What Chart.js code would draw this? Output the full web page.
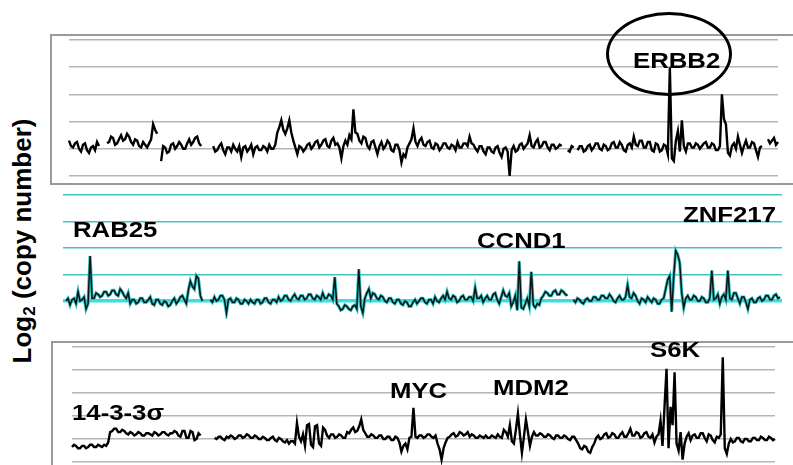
<!DOCTYPE html>
<html>
<head>
<meta charset="utf-8">
<script src="https://cdn.jsdelivr.net/npm/chart.js@4"></script>
<style>
    html, body { margin: 0; padding: 0; background: #fff; }
    #stage { position: relative; width: 793px; height: 465px; overflow: hidden; font-family: 'Liberation Sans', Arial, sans-serif; }
    canvas { position: absolute; }
    #c1 { left: 63px; top: 34px; }
    #c2 { left: 57px; top: 189px; }
    #c3 { left: 66px; top: 341px; }
    .box { position: absolute; border: 2px solid #9a9a9a; border-right: none; }
    #box1 { left: 50px; top: 34px; width: 760px; height: 147px; }
    #box3 { left: 51px; top: 341px; width: 760px; height: 200px; border-bottom: none; }
    .gene { position: absolute; font-weight: bold; font-size: 22px; line-height: 22px; color: #000;
            transform: scaleX(1.17); transform-origin: 0 0; white-space: nowrap; }
    #ring { position: absolute; left: 606px; top: 12px; width: 126px; height: 84px; box-sizing: border-box;
            border: 3px solid #000; border-radius: 50%; }
    #ytitle { position: absolute; left: 23px; top: 241px; font-weight: bold; font-size: 26px; white-space: nowrap;
              transform: translate(-50%, -50%) rotate(-90deg); color: #000; }
    #ytitle sub { font-size: 17px; vertical-align: -4px; }
</style>
</head>
<body>
<div id="stage">
    <div class="box" id="box1"></div>
    <div class="box" id="box3"></div>
    <canvas id="c1" width="721" height="148"></canvas>
    <canvas id="c2" width="731" height="130"></canvas>
    <canvas id="c3" width="715" height="127"></canvas>
    <div id="ring"></div>
    <div class="gene" style="left:633px; top:50px;">ERBB2</div>
    <div class="gene" style="left:73px; top:219px;">RAB25</div>
    <div class="gene" style="left:477px; top:230px;">CCND1</div>
    <div class="gene" style="left:683px; top:204px;">ZNF217</div>
    <div class="gene" style="left:72px; top:402px;">14-3-3σ</div>
    <div class="gene" style="left:390px; top:380px;">MYC</div>
    <div class="gene" style="left:493px; top:377px;">MDM2</div>
    <div class="gene" style="left:650px; top:339px;">S6K</div>
    <div id="ytitle">Log<sub>2</sub> (copy number)</div>
</div>
<script>
// log2 copy number along the genome, one value per probe bin (null = gap between chromosomes)
const topValues = [
    0.30, 0.10, 0.05, 0.20, 0.25, 0.00, -0.10, 0.15, 0.20, -0.05,
    -0.15, 0.05, 0.10, -0.05, 0.25, 0.10, null, null, null, 0.20,
    0.25, 0.45, 0.40, 0.15, 0.20, 0.35, 0.50, 0.30, 0.35, 0.55,
    0.45, 0.25, 0.15, 0.35, 0.30, 0.10, 0.05, 0.25, 0.15, 0.05,
    0.20, 0.35, 0.90, 0.70, 0.55, null, -0.45, 0.10, 0.05, -0.15,
    -0.10, 0.15, 0.20, 0.00, 0.10, 0.25, 0.15, 0.00, 0.00, 0.20,
    0.35, 0.15, 0.25, 0.40, 0.45, 0.20, 0.10, null, null, null,
    null, null, 0.10, -0.10, -0.05, 0.10, 0.20, -0.05, -0.20, 0.05,
    0.05, -0.10, 0.15, 0.00, -0.10, 0.10, -0.30, 0.05, 0.10, -0.10,
    0.00, 0.15, -0.20, 0.05, 0.10, -0.05, -0.05, 0.10, 0.05, -0.10,
    0.15, 0.00, 0.00, 0.15, 0.60, 0.80, 1.05, 0.70, 0.55, 0.75,
    1.05, 0.60, 0.30, 0.05, -0.20, 0.10, 0.05, -0.10, 0.00, 0.15,
    0.20, 0.00, 0.10, 0.25, 0.30, 0.05, 0.15, 0.30, 0.35, 0.10,
    0.05, 0.30, 0.40, 0.15, 0.20, 0.05, -0.35, 0.10, 0.30, 0.15,
    0.50, 0.35, 1.45, 0.60, 0.55, 0.30, 0.20, 0.45, 0.40, 0.10,
    0.00, 0.25, 0.30, 0.05, -0.20, 0.10, 0.25, 0.00, 0.10, 0.30,
    0.20, -0.05, -0.10, 0.15, 0.15, -0.05, -0.50, -0.20, -0.30, 0.05,
    0.20, 0.35, 0.75, 0.25, 0.10, 0.30, 0.40, 0.15, 0.10, 0.25,
    0.30, 0.05, 0.00, 0.20, 0.15, -0.05, 0.05, 0.20, 0.20, 0.05,
    0.00, 0.15, 0.10, -0.05, 0.25, 0.05, 0.05, 0.20, 0.20, 0.10,
    0.45, 0.20, 0.15, 0.00, -0.10, 0.10, 0.10, -0.10, -0.20, 0.05,
    0.05, -0.10, -0.15, 0.05, 0.10, -0.15, -0.30, 0.00, 0.05, -0.10,
    -1.00, -0.05, 0.10, -0.10, -0.05, 0.15, 0.20, 0.00, 0.10, 0.20,
    0.50, 0.10, 0.05, 0.25, 0.35, 0.05, 0.10, 0.25, 0.25, 0.05,
    -0.05, 0.15, 0.15, 0.00, 0.05, 0.15, 0.10, null, null, -0.05,
    -0.10, 0.10, 0.05, null, -0.05, 0.10, 0.10, -0.10, -0.05, 0.10,
    0.15, -0.05, 0.05, 0.20, 0.20, 0.00, -0.05, 0.15, 0.10, -0.05,
    0.00, 0.20, 0.25, 0.05, 0.05, 0.25, 0.15, -0.05, -0.10, 0.15,
    0.20, 0.05, 0.45, 0.15, 0.10, 0.30, 0.30, 0.05, 0.05, 0.25,
    0.25, -0.05, -0.10, 0.20, 0.15, -0.10, -0.05, 0.15, 0.10, -0.20,
    3.00, -0.35, -0.45, 0.30, 0.65, -0.10, 1.05, 0.10, -0.10, 0.20,
    0.20, 0.05, 0.05, 0.20, 0.15, 0.00, 0.10, 0.20, 0.25, 0.05,
    0.05, 0.20, 0.15, -0.05, -0.05, 0.10, 2.00, 1.10, 0.90, -0.15,
    -0.25, 0.10, 0.20, 0.00, 0.45, 0.15, -0.15, 0.10, 0.30, 0.05,
    0.05, 0.25, 0.20, -0.05, -0.30, 0.05, 0.10, null, null, 0.35,
    0.20, 0.30, 0.40, 0.15, 0.25
];

const midValues = [
    0.00, 0.10, -0.15, 0.05, 0.10, -0.10, 0.35, 0.00, 0.05, 0.15,
    -0.30, -0.10, 1.70, 0.10, 0.10, 0.30, 0.25, 0.15, 0.20, 0.35,
    0.35, 0.20, 0.25, 0.40, 0.40, 0.25, 0.20, 0.45, 0.35, 0.20,
    0.10, 0.30, -0.10, 0.05, 0.05, -0.10, -0.05, 0.10, 0.10, -0.05,
    -0.05, 0.05, 0.15, -0.10, -0.15, 0.05, 0.05, -0.10, -0.15, 0.00,
    -0.05, -0.20, -0.15, 0.00, 0.10, -0.10, 0.00, 0.15, 0.20, 0.05,
    -0.10, 0.40, 0.75, 0.55, 0.45, 0.95, 0.85, 0.20, 0.00, null,
    null, null, 0.05, -0.05, 0.15, 0.00, 0.05, 0.20, 0.20, 0.05,
    -0.45, 0.05, 0.10, -0.05, -0.05, 0.10, 0.05, -0.10, -0.10, 0.05,
    0.00, -0.10, 0.05, -0.05, -0.10, 0.05, 0.05, -0.10, -0.05, 0.10,
    0.10, -0.05, -0.10, 0.05, 0.05, -0.05, 0.15, 0.00, 0.05, 0.20,
    0.20, 0.05, 0.00, 0.15, 0.25, 0.10, 0.05, 0.20, 0.20, 0.05,
    0.10, 0.25, 0.25, 0.10, 0.05, 0.20, 0.15, 0.05, 0.30, 0.10,
    0.10, 0.25, 0.20, 0.05, 0.90, -0.10, -0.20, -0.35, -0.30, -0.15,
    -0.20, -0.30, -0.35, -0.20, -0.15, -0.30, 1.20, -0.20, -0.45, 0.10,
    0.30, 0.45, 0.10, 0.30, 0.25, 0.10, 0.05, 0.20, 0.15, 0.00,
    -0.05, 0.10, 0.10, -0.05, -0.10, 0.05, 0.05, -0.10, -0.15, 0.00,
    -0.05, -0.20, -0.20, -0.05, 0.05, -0.10, 0.00, 0.10, 0.10, -0.05,
    -0.10, 0.05, 0.05, -0.10, 0.15, 0.00, -0.05, 0.10, 0.20, 0.05,
    0.35, 0.10, 0.05, 0.20, 0.15, -0.05, 0.00, 0.15, 0.20, 0.05,
    0.05, 0.15, 0.15, 0.00, 0.50, 0.10, 0.10, 0.20, -0.05, 0.10,
    0.20, 0.05, 0.05, 0.25, 0.30, 0.05, -0.10, 0.15, 0.40, 0.20,
    0.15, 0.30, -0.20, -0.05, 0.20, -0.35, 1.50, -0.25, -0.30, -0.10,
    0.10, -0.20, 1.10, -0.15, -0.25, -0.10, -0.15, 0.10, 0.20, 0.35,
    0.30, 0.20, 0.20, 0.35, 0.40, 0.25, 0.25, 0.40, 0.35, 0.25,
    0.20, null, null, 0.05, -0.05, 0.10, 0.05, -0.05, -0.10, 0.05,
    0.10, 0.00, 0.00, 0.15, 0.15, 0.05, 0.05, 0.20, 0.20, 0.10,
    0.10, 0.25, 0.15, 0.00, -0.05, 0.10, 0.20, 0.05, 0.05, 0.15,
    0.60, 0.15, 0.10, 0.30, 0.20, 0.00, -0.10, 0.10, 0.05, -0.05,
    0.15, 0.05, -0.05, 0.10, 0.05, -0.10, -0.10, 0.05, 0.10, 0.45,
    0.80, 0.95, -0.40, 0.90, 1.90, 1.75, 1.45, 0.30, -0.25, 0.10,
    0.20, 0.05, 0.05, 0.20, 0.15, 0.00, 0.00, 0.15, 0.10, -0.05,
    -0.05, 0.10, 1.15, 0.05, 0.10, 0.25, -0.10, 0.15, 0.25, 0.05,
    1.15, 0.10, 0.05, 0.30, 0.30, 0.10, -0.10, 0.15, 0.15, -0.05,
    -0.30, 0.05, 0.10, -0.05, -0.05, 0.10, 0.15, 0.00, 0.05, 0.20,
    0.20, 0.05, 0.05, 0.20, 0.25, 0.10, 0.15
];

const lowValues = [
    -0.35, -0.25, -0.30, -0.40, -0.40, -0.30, -0.30, -0.40, -0.35, -0.25,
    -0.25, -0.35, -0.35, -0.25, -0.30, -0.35, -0.25, -0.30, -0.15, 0.30,
    0.35, 0.45, 0.45, 0.30, 0.30, 0.40, 0.35, 0.25, 0.20, 0.30,
    0.25, 0.15, 0.20, 0.30, 0.25, 0.15, 0.15, 0.25, 0.25, 0.20,
    0.15, 0.30, 0.25, 0.15, 0.20, 0.30, 0.30, 0.20, 0.15, 0.25,
    0.25, 0.35, 0.30, 0.15, 0.10, 0.35, 0.35, 0.05, 0.05, 0.35,
    0.30, -0.05, 0.00, 0.25, 0.15, null, null, null, null, null,
    null, 0.05, 0.00, 0.10, 0.10, 0.00, -0.05, 0.10, 0.05, 0.15,
    0.10, 0.00, 0.05, 0.15, 0.15, 0.05, 0.10, 0.20, 0.15, 0.05,
    0.05, 0.15, 0.10, 0.00, 0.00, 0.10, 0.05, -0.05, -0.05, 0.05,
    0.10, -0.05, -0.10, 0.05, 0.00, -0.10, -0.15, -0.05, -0.20, -0.10,
    -0.10, -0.20, 0.70, 0.10, -0.10, 0.20, -0.30, 0.60, 0.65, -0.25,
    -0.35, 0.55, 0.60, -0.20, -0.30, 0.50, 0.40, 0.15, 0.05, 0.20,
    0.20, 0.05, 0.10, 0.20, 0.15, 0.05, 0.05, 0.30, 0.25, 0.40,
    0.50, 0.30, 0.35, 0.55, 0.85, 0.40, 0.25, 0.10, 0.10, 0.20,
    0.15, 0.05, 0.05, 0.15, 0.15, 0.00, 0.00, 0.10, 0.10, -0.05,
    -0.05, 0.10, 0.05, -0.15, -0.55, -0.30, -0.20, -0.45, 0.05, 0.10,
    1.35, 0.10, 0.05, 0.15, 0.15, 0.05, 0.10, 0.20, 0.20, 0.10,
    0.05, 0.15, -0.20, -0.45, -0.90, -0.40, -0.15, 0.05, 0.10, 0.20,
    0.25, 0.10, 0.15, 0.30, 0.25, 0.15, 0.20, 0.30, 0.10, 0.20,
    0.15, 0.05, 0.05, 0.15, 0.10, 0.05, 0.15, 0.05, 0.05, 0.15,
    0.10, 0.05, 0.20, 0.10, 0.05, 0.40, 0.30, 0.10, 0.60, -0.10,
    -0.20, 0.40, 1.10, 0.20, -0.60, 0.10, 0.85, 0.30, -0.30, 0.10,
    0.30, 0.15, 0.15, 0.25, 0.20, 0.10, 0.10, 0.20, 0.15, 0.05,
    0.00, 0.15, 0.15, 0.05, 0.05, 0.15, 0.10, 0.00, -0.05, 0.10,
    0.10, -0.05, -0.20, -0.40, -0.45, -0.30, -0.35, -0.55, -0.60, -0.35,
    -0.20, 0.05, 0.15, 0.00, 0.05, 0.20, 0.25, 0.05, 0.10, 0.25,
    0.20, 0.05, 0.05, 0.20, 0.30, 0.10, 0.10, 0.25, 0.45, 0.15,
    0.15, 0.30, 0.25, 0.05, 0.10, 0.25, 0.30, 0.10, 0.05, 0.20,
    -0.15, 0.10, 0.20, 0.80, -0.30, 1.40, 3.05, -0.40, 1.40, 0.60,
    2.90, -0.20, -0.50, 0.30, -0.90, -0.20, 0.10, 0.25, -0.05, 0.15,
    0.20, 0.05, 0.05, 0.25, 0.25, 0.05, -0.10, 0.20, 0.15, -0.05,
    -0.15, 0.10, 0.05, 0.20, 3.55, -0.40, -0.65, -0.20, 0.00, -0.15,
    -0.10, 0.05, 0.05, -0.10, -0.15, 0.00, 0.00, -0.10, -0.10, 0.05,
    0.05, -0.05, -0.05, 0.10, 0.05, -0.05, -0.05, 0.10, 0.05, -0.05,
    0.00
];

// horizontal reference lines of each panel
const topGrid = [-1, 0, 1, 2, 3, 4];
const midGrid = [0, 1, 2, 3, 4];
const lowGrid = [-1, 0, 1, 2, 3, 4];

function toPoints(values) {
    return values.map((v, i) => ({ x: i, y: v }));
}

function trace(values, color, width) {
    return {
        data: toPoints(values),
        borderColor: color,
        borderWidth: width,
        pointRadius: 0,
        tension: 0,
        spanGaps: false,
        clip: false,
        borderJoinStyle: 'miter'
    };
}

function makePanel(id, datasets, grid, yRange, xRange, padding, gridColor, gridWidth) {
    new Chart(document.getElementById(id), {
        type: 'line',
        data: { datasets },
        options: {
            responsive: false,
            animation: false,
            events: [],
            layout: { padding },
            plugins: { legend: { display: false }, tooltip: { enabled: false } },
            scales: {
                x: { type: 'linear', display: false, min: xRange[0], max: xRange[1] },
                y: {
                    min: yRange[0],
                    max: yRange[1],
                    border: { display: false },
                    ticks: { display: false },
                    afterBuildTicks: scale => { scale.ticks = grid.map(v => ({ value: v })); },
                    grid: { drawTicks: false, color: gridColor, lineWidth: gridWidth }
                }
            }
        }
    });
}

makePanel('c1', [trace(topValues, '#000', 2.4)], topGrid, [-1, 4],
    [0, topValues.length - 1], { left: 6, right: 6, top: 6, bottom: 6 }, '#b5b5b5', 1.5);

// dark core drawn over a teal halo (first dataset is painted last)
makePanel('c2', [trace(midValues, '#0a1414', 1.5), trace(midValues, '#2fc0c0', 3.2)], midGrid, [0, 4],
    [-1.5, midValues.length], { left: 6, right: 6, top: 6, bottom: 18 },
    ctx => ctx.tick.value === 0 ? '#3ddede' : '#45c3c3',
    ctx => ctx.tick.value === 0 ? 3.5 : 1.5);

makePanel('c3', [trace(lowValues, '#000', 2.4)], lowGrid, [-1, 4],
    [0, lowValues.length - 1], { left: 6, right: 6, top: 6, bottom: 6 }, '#b5b5b5', 1.5);
</script>
</body>
</html>
